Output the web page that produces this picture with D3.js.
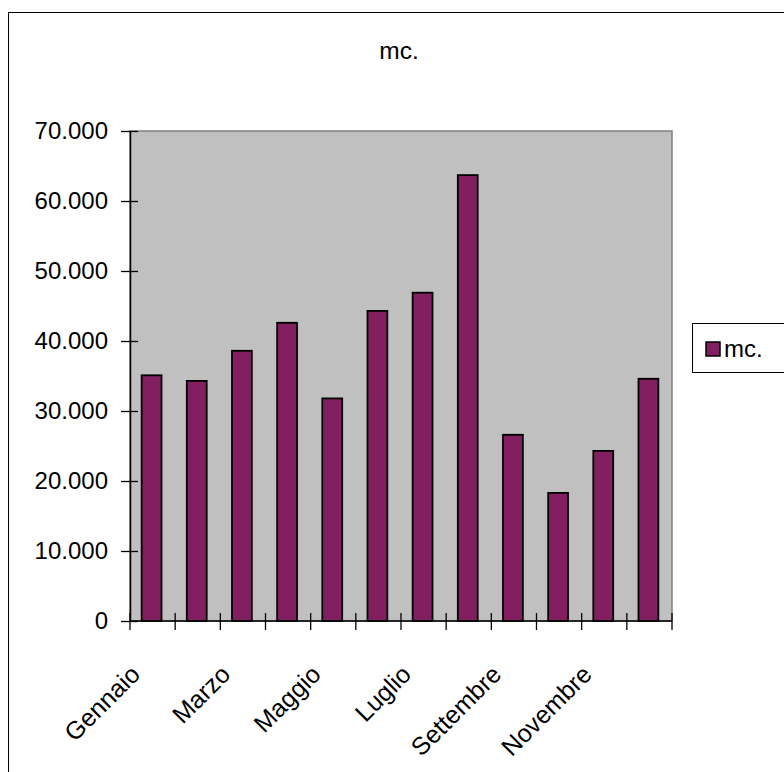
<!DOCTYPE html>
<html>
<head>
<meta charset="utf-8">
<script src="https://cdn.jsdelivr.net/npm/d3@7"></script>
<style>
  html, body { margin: 0; padding: 0; background: #fff; }
  svg { display: block; }
  text { font-family: "Liberation Sans", Arial, sans-serif; fill: #000; }
</style>
</head>
<body>
<svg id="chart" width="784" height="772"></svg>
<script>
// Monthly volumes (mc.)
const months = ["Gennaio", "Febbraio", "Marzo", "Aprile", "Maggio", "Giugno",
                "Luglio", "Agosto", "Settembre", "Ottobre", "Novembre", "Dicembre"];
const values = [35100, 34300, 38600, 42600, 31800, 44300,
                46900, 63700, 26600, 18300, 24300, 34600];
const yTicks = [0, 10000, 20000, 30000, 40000, 50000, 60000, 70000];
const shownLabels = ["Gennaio", "Marzo", "Maggio", "Luglio", "Settembre", "Novembre"];
const seriesName = "mc.";

const svg = d3.select("#chart");
const plot = { left: 130, right: 672, top: 131, bottom: 621 };

const x = d3.scaleBand().domain(months).range([plot.left, plot.right])
  .paddingInner(0.56).paddingOuter(0.28);
const band = d3.scaleBand().domain(months).range([plot.left, plot.right]);
const y = d3.scaleLinear().domain([0, 70000]).range([plot.bottom, plot.top]);

const fmt = v => v === 0 ? "0" : d3.format(",")(v).replace(/,/g, ".");

// outer chart frame
svg.append("rect").attr("x", 8.5).attr("y", 12.5)
  .attr("width", 800).attr("height", 800)
  .attr("fill", "#fff").attr("stroke", "#000").attr("stroke-width", 1);

// title
svg.append("text").attr("x", 399).attr("y", 59)
  .attr("text-anchor", "middle").attr("font-size", 24.5).text(seriesName);

// plot background
svg.append("rect")
  .attr("x", plot.left).attr("y", plot.top)
  .attr("width", plot.right - plot.left).attr("height", plot.bottom - plot.top)
  .attr("fill", "#c0c0c0").attr("stroke", "#808080").attr("stroke-width", 1.5);

// bars
svg.append("g").selectAll("rect").data(values).join("rect")
  .attr("x", (d, i) => x(months[i]) - 1)
  .attr("y", d => y(d))
  .attr("width", x.bandwidth())
  .attr("height", d => y(0) - y(d))
  .attr("fill", "#821f60")
  .attr("stroke", "#000").attr("stroke-width", 1.8);

// y axis
const yAxis = d3.axisLeft(y).tickValues(yTicks).tickFormat(fmt)
  .tickSizeInner(-8).tickSizeOuter(0).tickPadding(0);
const gy = svg.append("g").attr("transform", `translate(${plot.left},0)`).call(yAxis);
gy.select(".domain").attr("stroke", "#000").attr("stroke-width", 1.5);
gy.selectAll(".tick line").attr("x1", -9).attr("x2", 8).attr("stroke", "#000").attr("stroke-width", 1.3);
gy.selectAll(".tick text").attr("x", -22).attr("dy", "0.32em")
  .attr("font-size", 24).attr("font-family", "Liberation Sans, Arial, sans-serif");

// x axis: ticks at category boundaries
const boundaries = months.map(m => band(m)).concat([plot.right]);
const gx = svg.append("g");
gx.append("line").attr("x1", plot.left).attr("x2", plot.right)
  .attr("y1", plot.bottom).attr("y2", plot.bottom)
  .attr("stroke", "#000").attr("stroke-width", 1.5);
gx.selectAll("line.tk").data(boundaries).join("line").attr("class", "tk")
  .attr("x1", d => d).attr("x2", d => d)
  .attr("y1", plot.bottom - 8).attr("y2", plot.bottom + 9)
  .attr("stroke", "#000").attr("stroke-width", 1.3);
gx.selectAll("text").data(shownLabels).join("text")
  .attr("transform", d => `translate(${band(d) + band.bandwidth() / 2 - 11},676) rotate(-45)`)
  .attr("text-anchor", "end").attr("font-size", 25).text(d => d);

// legend
const lg = svg.append("g");
lg.append("rect").attr("x", 692.5).attr("y", 323.5).attr("width", 120).attr("height", 49)
  .attr("fill", "#fff").attr("stroke", "#000").attr("stroke-width", 1);
lg.append("rect").attr("x", 706).attr("y", 342).attr("width", 14).attr("height", 14)
  .attr("fill", "#821f60").attr("stroke", "#000").attr("stroke-width", 1.5);
lg.append("text").attr("x", 724).attr("y", 357).attr("font-size", 24).text(seriesName);
</script>
</body>
</html>
